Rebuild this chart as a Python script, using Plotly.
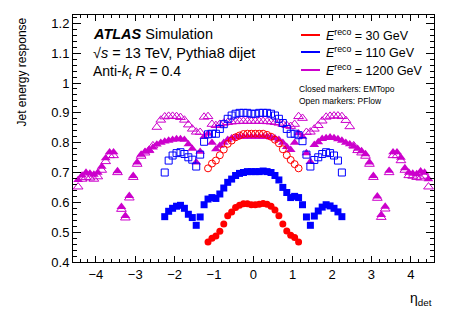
import plotly.graph_objects as go

# eta bin centres
eta_30 = [-1.15, -1.05, -0.95, -0.85, -0.75, -0.65, -0.55, -0.45, -0.35, -0.25, -0.15, -0.05,
          0.05, 0.15, 0.25, 0.35, 0.45, 0.55, 0.65, 0.75, 0.85, 0.95, 1.05, 1.15]
eta_110 = [-2.25, -2.15, -2.05, -1.95, -1.85, -1.75, -1.65, -1.55, -1.45, -1.35, -1.25, -1.15,
           -1.05, -0.95, -0.85, -0.75, -0.65, -0.55, -0.45, -0.35, -0.25, -0.15, -0.05,
           0.05, 0.15, 0.25, 0.35, 0.45, 0.55, 0.65, 0.75, 0.85, 0.95, 1.05, 1.15,
           1.25, 1.35, 1.45, 1.55, 1.65, 1.75, 1.85, 1.95, 2.05, 2.15, 2.25]
eta_1200 = [-4.45, -4.35, -4.25, -4.15, -4.05, -3.95, -3.85, -3.75, -3.65, -3.55, -3.45, -3.35,
            -3.25, -3.15, -3.05, -2.95, -2.85, -2.75, -2.65, -2.55, -2.45, -2.35, -2.25, -2.15,
            -2.05, -1.95, -1.85, -1.75, -1.65, -1.55, -1.45, -1.35, -1.25, -1.15, -1.05, -0.95,
            -0.85, -0.75, -0.65, -0.55, -0.45, -0.35, -0.25, -0.15, -0.05,
            0.05, 0.15, 0.25, 0.35, 0.45, 0.55, 0.65, 0.75, 0.85, 0.95, 1.05, 1.15,
            1.25, 1.35, 1.45, 1.55, 1.65, 1.75, 1.85, 1.95, 2.05, 2.15, 2.25, 2.35,
            2.45, 2.55, 2.65, 2.75, 2.85, 2.95, 3.05, 3.15, 3.25, 3.35, 3.45, 3.55,
            3.65, 3.75, 3.85, 3.95, 4.05, 4.15, 4.25, 4.35, 4.45]

# 30 GeV
emtopo_30 = [0.467, 0.480, 0.487, 0.503, 0.527, 0.555, 0.568, 0.583, 0.590, 0.595, 0.595, 0.592,
             0.592, 0.594, 0.596, 0.594, 0.587, 0.574, 0.555, 0.527, 0.504, 0.490, 0.482, 0.467]
pflow_30 = [0.714, 0.730, 0.740, 0.758, 0.777, 0.796, 0.807, 0.818, 0.824, 0.829, 0.830, 0.830,
            0.830, 0.830, 0.830, 0.826, 0.820, 0.810, 0.798, 0.778, 0.758, 0.742, 0.728, 0.714]

# 110 GeV
emtopo_110 = [0.552, 0.570, 0.580, 0.587, 0.590, 0.580, 0.560, 0.549, 0.523, 0.551, 0.592, 0.611,
              0.616, 0.613, 0.628, 0.648, 0.667, 0.678, 0.690, 0.697, 0.700, 0.703, 0.703,
              0.703, 0.703, 0.705, 0.703, 0.700, 0.690, 0.675, 0.650, 0.633, 0.616, 0.620, 0.616,
              0.592, 0.551, 0.523, 0.554, 0.571, 0.584, 0.592, 0.588, 0.580, 0.568, 0.552]
pflow_110 = [0.700, 0.740, 0.757, 0.765, 0.768, 0.762, 0.751, 0.743, 0.720, 0.760, 0.803, 0.828,
             0.830, 0.830, 0.846, 0.862, 0.880, 0.891, 0.897, 0.900, 0.900, 0.900, 0.897,
             0.897, 0.900, 0.900, 0.900, 0.897, 0.891, 0.880, 0.866, 0.846, 0.830, 0.830, 0.825,
             0.805, 0.760, 0.720, 0.742, 0.751, 0.762, 0.768, 0.765, 0.757, 0.740, 0.700]

# 1200 GeV
emtopo_1200 = [0.675, 0.690, 0.700, 0.697, 0.693, 0.700, 0.720, 0.748, 0.768, 0.768, 0.705, 0.585,
               0.555, 0.622, 0.689, 0.734, 0.760, 0.770, 0.776, 0.784, 0.794, 0.800, 0.804, 0.807,
               0.810, 0.812, 0.812, 0.810, 0.795, 0.780, 0.734, 0.770, 0.820, 0.830, 0.800, 0.778,
               0.790, 0.800, 0.810, 0.815, 0.818, 0.820, 0.820, 0.820, 0.820,
               0.820, 0.820, 0.820, 0.820, 0.818, 0.815, 0.810, 0.800, 0.786, 0.776, 0.800, 0.832,
               0.820, 0.765, 0.736, 0.793, 0.802, 0.813, 0.816, 0.818, 0.816, 0.812, 0.807, 0.800,
               0.795, 0.788, 0.780, 0.772, 0.762, 0.734, 0.689, 0.620, 0.558, 0.586, 0.706, 0.768,
               0.768, 0.750, 0.715, 0.700, 0.697, 0.695, 0.704, 0.700, 0.678]
pflow_1200 = [0.652, 0.678, 0.684, 0.682, 0.678, 0.686, 0.708, 0.737, 0.757, 0.757, 0.700, 0.577,
              0.548, 0.615, 0.684, 0.728, 0.755, 0.766, 0.774, 0.790, 0.852, 0.876, 0.887, 0.889,
              0.889, 0.888, 0.885, 0.876, 0.860, 0.846, 0.836, 0.835, 0.886, 0.888, 0.862, 0.858,
              0.862, 0.866, 0.868, 0.870, 0.871, 0.872, 0.872, 0.872, 0.872,
              0.872, 0.872, 0.872, 0.871, 0.870, 0.868, 0.866, 0.862, 0.858, 0.855, 0.862, 0.888,
              0.882, 0.835, 0.836, 0.846, 0.858, 0.873, 0.886, 0.889, 0.890, 0.890, 0.888, 0.875,
              0.854, 0.790, 0.774, 0.766, 0.755, 0.728, 0.684, 0.614, 0.550, 0.578, 0.700, 0.757,
              0.757, 0.740, 0.708, 0.690, 0.688, 0.684, 0.682, 0.688, 0.652]

x_ticks = [-4, -3, -2, -1, 0, 1, 2, 3, 4]
y_ticks = [0.4, 0.5, 0.6, 0.7, 0.8, 0.9, 1.0, 1.1, 1.2]
y_ticklabels = ["0.4", "0.5", "0.6", "0.7", "0.8", "0.9", "1", "1.1", "1.2"]

legend_labels = ["<i>E</i><sup>reco</sup> = 30 GeV", "<i>E</i><sup>reco</sup> = 110 GeV",
                 "<i>E</i><sup>reco</sup> = 1200 GeV"]

RED = "#ff0000"
BLUE = "#0000ff"
MAG = "#cc00cc"
FONT = "Liberation Sans, Arial, Helvetica, sans-serif"

XR = [-4.58, 4.59]
YR = [0.4, 1.228]

fig = go.Figure()

def add(x, y, color, symbol, size, open_=False):
    marker = dict(color=color, symbol=symbol, size=size)
    if open_:
        marker["line"] = dict(color=color, width=1)
    else:
        marker["line"] = dict(width=0)
    fig.add_trace(go.Scatter(x=x, y=y, mode="markers", marker=marker,
                             showlegend=False, hoverinfo="skip"))

add(eta_1200, emtopo_1200, MAG, "triangle-up", 8.5)
add(eta_1200, pflow_1200, MAG, "triangle-up-open", 8.5, True)
add(eta_110, emtopo_110, BLUE, "square", 7)
add(eta_110, pflow_110, BLUE, "square-open", 7, True)
add(eta_30, emtopo_30, RED, "circle", 7)
add(eta_30, pflow_30, RED, "circle-open", 7, True)

# dummy trace for mirrored axes
fig.add_trace(go.Scatter(x=[], y=[], xaxis="x2", yaxis="y2", showlegend=False))

axis_common = dict(showgrid=False, zeroline=False, ticks="inside", linecolor="black",
                   linewidth=1, tickcolor="black", showline=True)
tickfont = dict(family=FONT, size=13, color="black")

fig.update_layout(
    width=457, height=309,
    margin=dict(l=73, r=23, t=15, b=47),
    plot_bgcolor="white", paper_bgcolor="white",
    xaxis=dict(range=XR, tickvals=x_ticks, ticklen=6, tickwidth=1, tickfont=tickfont,
               minor=dict(dtick=0.2, tick0=0, ticklen=3, ticks="inside", tickcolor="black"),
               **axis_common),
    yaxis=dict(range=YR, tickvals=y_ticks, ticktext=y_ticklabels, ticklen=8, tickwidth=1,
               tickfont=tickfont,
               minor=dict(dtick=0.02, tick0=0.4, ticklen=4, ticks="inside", tickcolor="black"),
               **axis_common),
    xaxis2=dict(range=XR, overlaying="x", side="top", anchor="y", tickvals=x_ticks,
                showticklabels=False, ticklen=6,
                minor=dict(dtick=0.2, tick0=0, ticklen=3, ticks="inside", tickcolor="black"),
                **axis_common),
    yaxis2=dict(range=YR, overlaying="y", side="right", anchor="x", tickvals=y_ticks,
                showticklabels=False, ticklen=8,
                minor=dict(dtick=0.02, tick0=0.4, ticklen=4, ticks="inside", tickcolor="black"),
                **axis_common),
    showlegend=False,
)

def px_x(p):
    return (p - 73) / 361.0

def px_y(p):
    return (262 - p) / 247.0

ann = []
ann.append(dict(text="<b><i>ATLAS</i></b> Simulation", x=px_x(91), y=px_y(33.5),
                xanchor="left", yanchor="middle", font=dict(size=14.5)))
ann.append(dict(text="√<i>s</i> = 13 TeV, Pythia8 dijet", x=px_x(91), y=px_y(53.5),
                xanchor="left", yanchor="middle", font=dict(size=14.5)))
ann.append(dict(text="Anti-<i>k</i><sub><i>t</i></sub> <i>R</i> = 0.4", x=px_x(91), y=px_y(72),
                xanchor="left", yanchor="middle", font=dict(size=14)))

leg_y = [35, 52, 70]
leg_col = [RED, BLUE, MAG]
shapes = []
for lab, yy, cc in zip(legend_labels, leg_y, leg_col):
    shapes.append(dict(type="line", xref="paper", yref="paper", x0=px_x(301), x1=px_x(320),
                       y0=px_y(yy), y1=px_y(yy), line=dict(color=cc, width=2)))
    ann.append(dict(text=lab, x=px_x(324), y=px_y(yy), xanchor="left", yanchor="middle",
                    font=dict(size=12.5)))

ann.append(dict(text="Closed markers: EMTopo", x=px_x(297), y=px_y(89), xanchor="left",
                yanchor="middle", font=dict(size=8.5)))
ann.append(dict(text="Open markers: PFlow", x=px_x(297), y=px_y(101), xanchor="left",
                yanchor="middle", font=dict(size=8.5)))

ann.append(dict(text="Jet energy response", x=px_x(21), y=px_y(15), xanchor="center",
                yanchor="top", textangle=-90, font=dict(size=12)))
ann.append(dict(text="η<sub>det</sub>", x=px_x(434), y=px_y(299), xanchor="right",
                yanchor="middle", font=dict(size=14)))

for a in ann:
    a.update(xref="paper", yref="paper", showarrow=False)
    a["font"] = dict(family=FONT, color="black", size=a["font"]["size"])

fig.update_layout(annotations=ann, shapes=shapes)

fig.write_html("out.html", config={"displayModeBar": False},
               post_script="document.body.style.margin='0';document.body.style.padding='0';")
